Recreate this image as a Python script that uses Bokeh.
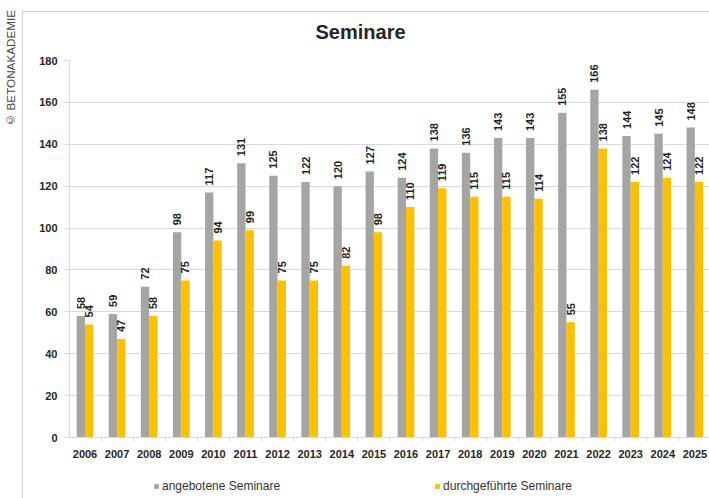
import numpy as np
from bokeh.plotting import figure
from bokeh.models import Range1d, FixedTicker, ColumnDataSource, Legend, LegendItem, Div
from bokeh.layouts import column, row
from bokeh.transform import dodge
from bokeh.embed import file_html
from bokeh.resources import INLINE
from bokeh.core.properties import value

# ---- data ----
years = [str(y) for y in range(2006, 2026)]
angebotene = [58, 59, 72, 98, 117, 131, 125, 122, 120, 127, 124, 138, 136, 143, 143, 155, 166, 144, 145, 148]
durchgefuehrte = [54, 47, 58, 75, 94, 99, 75, 75, 82, 98, 110, 119, 115, 115, 114, 55, 138, 122, 124, 122]
y_ticks = [0, 20, 40, 60, 80, 100, 120, 140, 160, 180]
title_text = "Seminare"
series_names = ["angebotene Seminare", "durchgeführte Seminare"]
copyright_text = "© BETONAKADEMIE"

GREY = "#a5a5a5"
YELLOW = "#ffc000"
GRIDC = "#d9d9d9"
FRAMEC = "#cdd1d6"
FONT = "Liberation Sans"

idx = list(range(len(years)))
src = ColumnDataSource(dict(
    x=idx, a=angebotene, d=durchgefuehrte,
    a_txt=[str(v) for v in angebotene], d_txt=[str(v) for v in durchgefuehrte],
))

bg_top = ("linear-gradient(%s, %s) 0px 11px / 1px calc(100%% - 11px) no-repeat, "
          "linear-gradient(%s, %s) 0px 11px / 100%% 1px no-repeat, #ffffff") % ((FRAMEC,) * 4)
bg_bot = "linear-gradient(%s, %s) 0px 0px / 1px 100%% no-repeat, #ffffff" % (FRAMEC, FRAMEC)

p = figure(width=687, height=466, output_backend="svg", toolbar_location=None,
           x_range=Range1d(-0.483, 19.455), y_range=Range1d(0, 180),
           min_border_left=47, min_border_right=0, min_border_top=60, min_border_bottom=29)
p.outline_line_color = None
p.background_fill_color = "white"
p.border_fill_color = None
p.styles = {"background": bg_top}

bw = 0.26
r1 = p.vbar(x=dodge("x", -0.13), top="a", width=bw, source=src, fill_color=GREY, line_color=None)
r2 = p.vbar(x=dodge("x", 0.13), top="d", width=bw, source=src, fill_color=YELLOW, line_color=None)

common = dict(angle=np.pi / 2, text_align="left", text_baseline="middle", y_offset=-7,
              text_font=value(FONT), text_font_style="bold", text_font_size="11px", text_color="#1f1f1f")
p.text(x=dodge("x", -0.13), y="a", text="a_txt", source=src, **common)
p.text(x=dodge("x", 0.13), y="d", text="d_txt", source=src, **common)

# axes
p.xgrid.grid_line_color = None
p.ygrid.grid_line_color = GRIDC
p.ygrid.ticker = FixedTicker(ticks=y_ticks)

ya = p.yaxis[0]
ya.ticker = FixedTicker(ticks=y_ticks)
ya.axis_line_color = GRIDC
ya.major_tick_line_color = GRIDC
ya.major_tick_out = 5
ya.major_tick_in = 0
ya.minor_tick_line_color = None
ya.major_label_standoff = 7
ya.major_label_text_font = FONT
ya.major_label_text_font_style = "bold"
ya.major_label_text_font_size = "11px"
ya.major_label_text_color = "#262626"

xa = p.xaxis[0]
xa.ticker = FixedTicker(ticks=idx, minor_ticks=[i - 0.5 for i in range(len(years) + 1)])
xa.major_label_overrides = {i: years[i] for i in idx}
xa.axis_line_color = GRIDC
xa.major_tick_line_color = None
xa.major_tick_out = 0
xa.major_tick_in = 0
xa.minor_tick_line_color = GRIDC
xa.minor_tick_out = 4
xa.minor_tick_in = 0
xa.major_label_standoff = 8
xa.major_label_text_font = FONT
xa.major_label_text_font_style = "bold"
xa.major_label_text_font_size = "11px"
xa.major_label_text_color = "#262626"

# title
p.title.text = title_text
p.title.align = "left"
p.title.vertical_align = "middle"
p.title.offset = 246
p.title.standoff = 34
p.title.text_font = FONT
p.title.text_font_style = "bold"
p.title.text_font_size = "20px"
p.title.text_color = "#262626"

# legend strip below the chart
p2 = figure(width=687, height=32, output_backend="svg", toolbar_location=None,
            x_range=Range1d(0, 1), y_range=Range1d(0, 1),
            x_axis_location=None, y_axis_location=None,
            min_border_left=0, min_border_right=0, min_border_top=0, min_border_bottom=0)
p2.grid.visible = False
p2.outline_line_color = None
p2.background_fill_color = None
p2.border_fill_color = None
p2.styles = {"background": bg_bot}
# zero-size proxies, only used for the legend swatches
d1 = p2.vbar(x=[0], top=[0], bottom=[0], width=0, fill_color=GREY, line_color=None)
d2 = p2.vbar(x=[0], top=[0], bottom=[0], width=0, fill_color=YELLOW, line_color=None)

legend = Legend(items=[LegendItem(label=series_names[0], renderers=[d1]),
                       LegendItem(label=series_names[1], renderers=[d2])],
                orientation="horizontal", location=(84, 5),
                glyph_width=6, glyph_height=6, label_standoff=3, spacing=154,
                label_height=12,
                label_text_font=FONT, label_text_font_size="12px", label_text_color="#333333",
                padding=0, margin=0, border_line_color=None,
                background_fill_alpha=0)
p2.add_layout(legend, "center")

div = Div(text=('<div style="writing-mode: vertical-rl; transform: rotate(180deg); '
                'font-family: \'Liberation Sans\', sans-serif; font-size: 11.7px; color: #444444; '
                'margin-left: 4px; margin-top: 10px; white-space: nowrap; line-height: 14px;">'
                + copyright_text + '</div>'),
          width=22, height=498, margin=(0, 0, 0, 0))

layout = row(div, column(p, p2, spacing=0), spacing=0)
open("out.html", "w").write(file_html(layout, INLINE))
